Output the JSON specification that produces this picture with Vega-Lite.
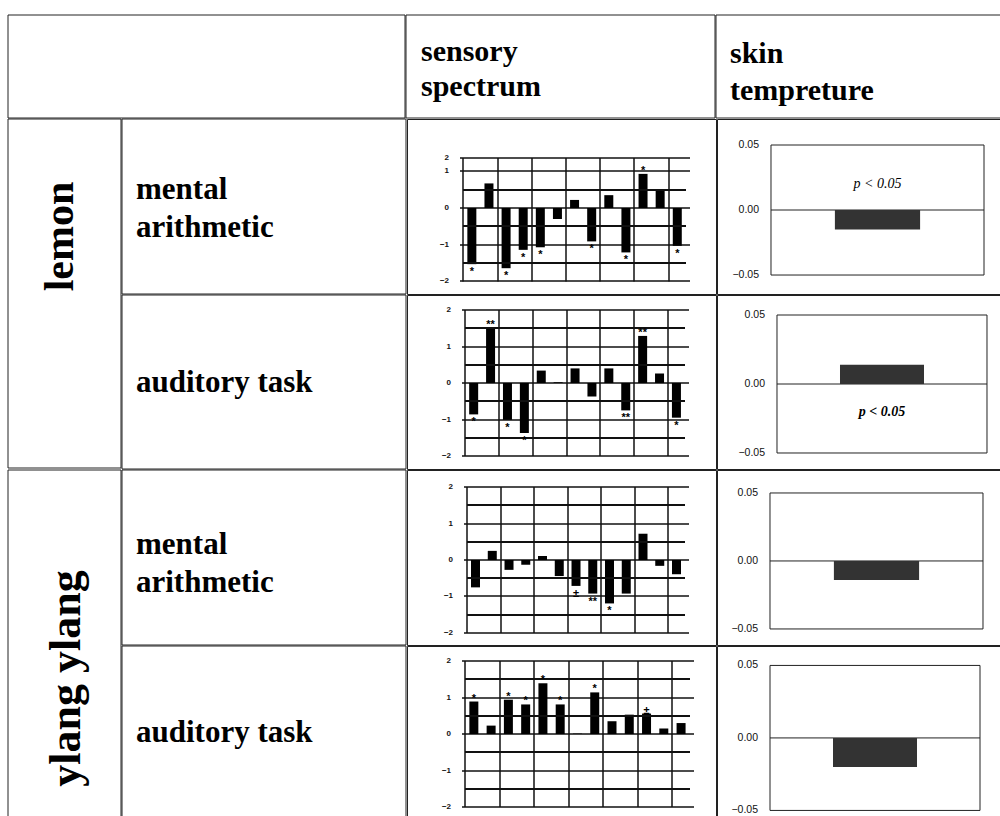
{
  "$schema": "https://vega.github.io/schema/vega-lite/v6.json",
  "background": "white",
  "padding": {"left": 7, "top": 14, "right": 0, "bottom": 0},
  "spacing": -3,
  "config": {
    "view": {"stroke": "#222", "strokeWidth": 1},
    "concat": {"spacing": -3},
    "font": "Liberation Serif",
    "axis": {"labelFont": "Liberation Sans", "labelColor": "#111", "title": null, "labelOverlap": false, "translate": 0},
    "rule": {"color": "#111", "strokeWidth": 1.5}
  },
  "vconcat": [
    {
      "spacing": -3,
      "hconcat": [
        {"width": 397, "height": 103, "data": {"values": [{"label": ""}]},
         "layer": [
           {"mark": {"type": "rect", "fill": "transparent", "stroke": "#222", "strokeWidth": 1}, "encoding": {}},
           {"mark": {"type": "text"}, "encoding": {"text": {"field": "label", "type": "nominal"}}}
         ]},
        {"width": 309, "height": 103, "data": {"values": [{"label": "sensory\nspectrum"}]},
         "layer": [
           {"mark": {"type": "rect", "fill": "transparent", "stroke": "#222", "strokeWidth": 1}, "encoding": {}},
           {"mark": {"type": "text", "align": "left", "baseline": "alphabetic", "dx": -139.5, "dy": -6, "lineBreak": "\n", "lineHeight": 35, "fontWeight": "bold", "fontSize": 30, "font": "Liberation Serif"},
            "encoding": {"text": {"field": "label", "type": "nominal"}}}
         ]},
        {"width": 286, "height": 103, "data": {"values": [{"label": "skin\ntempreture"}]},
         "layer": [
           {"mark": {"type": "rect", "fill": "transparent", "stroke": "#222", "strokeWidth": 1}, "encoding": {}},
           {"mark": {"type": "text", "align": "left", "baseline": "alphabetic", "dx": -129, "dy": -3.5, "lineBreak": "\n", "lineHeight": 37, "fontWeight": "bold", "fontSize": 30, "font": "Liberation Serif"},
            "encoding": {"text": {"field": "label", "type": "nominal"}}}
         ]}
      ]
    },
    {
      "spacing": -3,
      "hconcat": [
        {"width": 113, "height": 349, "data": {"values": [{"label": "lemon"}]},
         "layer": [
           {"mark": {"type": "rect", "fill": "transparent", "stroke": "#222", "strokeWidth": 1}, "encoding": {}},
           {"mark": {"type": "text", "angle": 270, "align": "center", "baseline": "middle", "dx": 57, "dy": -5, "fontWeight": "bold", "fontSize": 42, "font": "Liberation Serif"},
            "encoding": {"text": {"field": "label", "type": "nominal"}}}
         ]},
        {
          "spacing": -3,
          "vconcat": [
            {
              "spacing": -3,
              "hconcat": [
                {"width": 284, "height": 175, "data": {"values": [{"label": "mental\narithmetic"}]},
                 "layer": [
                   {"mark": {"type": "rect", "fill": "transparent", "stroke": "#222", "strokeWidth": 1}, "encoding": {}},
                   {"mark": {"type": "text", "align": "left", "baseline": "alphabetic", "dx": -128, "dy": -8, "lineBreak": "\n", "lineHeight": 38, "fontWeight": "bold", "fontSize": 31, "font": "Liberation Serif"},
                    "encoding": {"text": {"field": "label", "type": "nominal"}}}
                 ]},
                {"width": 309, "height": 175,
                 "data": {"values": [
                   {"i": 1, "v": -1.53, "sig": "*"}, {"i": 2, "v": 0.67, "sig": ""}, {"i": 3, "v": -1.64, "sig": "*"},
                   {"i": 4, "v": -1.14, "sig": "*"}, {"i": 5, "v": -1.07, "sig": "*"}, {"i": 6, "v": -0.30, "sig": ""},
                   {"i": 7, "v": 0.22, "sig": ""}, {"i": 8, "v": -0.91, "sig": "*"}, {"i": 9, "v": 0.35, "sig": ""},
                   {"i": 10, "v": -1.21, "sig": "*"}, {"i": 11, "v": 0.93, "sig": "*"}, {"i": 12, "v": 0.47, "sig": ""},
                   {"i": 13, "v": -1.03, "sig": "*"}]},
                 "layer": [
                   {"mark": {"type": "bar", "color": "black", "width": 9},
                    "encoding": {
                      "x": {"field": "i", "type": "quantitative", "title": null,
                            "scale": {"domain": [-2.4957, 14.9696], "nice": false, "zero": false},
                            "axis": {"orient": "bottom", "offset": -12.6, "values": [0.5,1.5,2.5,3.5,4.5,5.5,6.5,7.5,8.5,9.5,10.5,11.5,12.5,13.5], "labels": false, "domain": false, "grid": false, "tickSize": -123.3, "tickWidth": 1.5, "tickColor": "#111"}},
                      "y": {"field": "v", "type": "quantitative", "title": null,
                            "scale": {"domain": [-2.343, 2.425], "nice": false, "zero": false},
                            "axis": {"orient": "left", "offset": -53, "values": [-2,-1,0,1,1.36], "domain": false, "grid": false, "tickSize": -230, "tickWidth": 1.5, "tickColor": "#111", "labelPadding": 241, "labelOverlap": false, "labelExpr": "datum.value > 1.2 ? '2' : format(datum.value, 'd')", "labelFontSize": 8, "labelFontWeight": "bold"}},
                      "y2": {"datum": 0}}},
                   {"mark": {"type": "rule"}, "encoding": {"x": {"datum": 0.5, "type": "quantitative"}, "x2": {"datum": 13.5}, "y": {"datum": -1.5, "type": "quantitative"}}},
                   {"mark": {"type": "rule"}, "encoding": {"x": {"datum": 0.5, "type": "quantitative"}, "x2": {"datum": 13.5}, "y": {"datum": -0.5, "type": "quantitative"}}},
                   {"mark": {"type": "rule"}, "encoding": {"x": {"datum": 0.5, "type": "quantitative"}, "x2": {"datum": 13.5}, "y": {"datum": 0.5, "type": "quantitative"}}},
                   {"transform": [{"filter": "datum.v < 0"}],
                    "mark": {"type": "text", "baseline": "top", "dy": 2, "fontSize": 11, "fontWeight": "bold", "font": "Liberation Sans"},
                    "encoding": {"x": {"field": "i", "type": "quantitative"}, "y": {"field": "v", "type": "quantitative"}, "text": {"field": "sig", "type": "nominal"}}},
                   {"transform": [{"filter": "datum.v >= 0"}],
                    "mark": {"type": "text", "baseline": "bottom", "dy": 2, "fontSize": 11, "fontWeight": "bold", "font": "Liberation Sans"},
                    "encoding": {"x": {"field": "i", "type": "quantitative"}, "y": {"field": "v", "type": "quantitative"}, "text": {"field": "sig", "type": "nominal"}}}
                 ]},
                {"width": 286, "height": 175,
                 "data": {"values": [{"v": -0.015, "note": "p < 0.05"}]},
                 "resolve": {"scale": {"y": "independent"}, "axis": {"y": "independent"}},
                 "layer": [
                   {"mark": {"type": "rect", "fill": "white", "stroke": "#222", "strokeWidth": 1},
                    "encoding": {
                      "x": {"datum": 0, "type": "quantitative", "scale": {"domain": [-0.2535, 1.0892], "nice": false, "zero": false}, "axis": null},
                      "x2": {"datum": 1},
                      "y": {"datum": -0.05, "type": "quantitative", "scale": {"domain": [-0.0646, 0.07], "nice": false, "zero": false},
                            "axis": {"orient": "left", "offset": -54, "values": [-0.05, 0, 0.05], "domain": false, "grid": false, "ticks": false, "labelPadding": 12, "labelOverlap": false, "format": ".2f", "labelFontSize": 10.5, "title": null}},
                      "y2": {"datum": 0.05}}},
                   {"mark": {"type": "rule", "color": "#222", "strokeWidth": 1},
                    "encoding": {"x": {"datum": 0, "type": "quantitative"}, "x2": {"datum": 1},
                      "y": {"datum": 0, "type": "quantitative", "scale": {"domain": [-0.0646, 0.07], "nice": false, "zero": false},
                            "axis": {"orient": "left", "offset": -54, "values": [-0.04,-0.03,-0.02,-0.01,0.01,0.02,0.03,0.04], "domain": false, "grid": false, "labels": false, "tickSize": -3, "tickColor": "#333", "title": null}}}},
                   {"mark": {"type": "bar", "color": "#333"},
                    "encoding": {"x": {"datum": 0.3, "type": "quantitative"}, "x2": {"datum": 0.7},
                      "y": {"field": "v", "type": "quantitative", "scale": {"domain": [-0.0646, 0.07], "nice": false, "zero": false}, "axis": null}, "y2": {"datum": 0}}},
                   {"mark": {"type": "text", "font": "Liberation Serif", "fontStyle": "italic", "fontSize": 14},
                    "encoding": {"x": {"datum": 0.5, "type": "quantitative"},
                      "y": {"datum": 0.02, "type": "quantitative", "scale": {"domain": [-0.0646, 0.07], "nice": false, "zero": false}, "axis": null},
                      "text": {"field": "note", "type": "nominal"}}}
                 ]}
              ]
            },
            {
              "spacing": -3,
              "hconcat": [
                {"width": 284, "height": 174, "data": {"values": [{"label": "auditory task"}]},
                 "layer": [
                   {"mark": {"type": "rect", "fill": "transparent", "stroke": "#222", "strokeWidth": 1}, "encoding": {}},
                   {"mark": {"type": "text", "align": "left", "baseline": "alphabetic", "dx": -128, "dy": 10, "fontWeight": "bold", "fontSize": 31, "font": "Liberation Serif"},
                    "encoding": {"text": {"field": "label", "type": "nominal"}}}
                 ]},
                {"width": 309, "height": 174,
                 "data": {"values": [
                   {"i": 1, "v": -0.86, "sig": "*"}, {"i": 2, "v": 1.52, "sig": "**"}, {"i": 3, "v": -1.01, "sig": "*"},
                   {"i": 4, "v": -1.37, "sig": "*"}, {"i": 5, "v": 0.34, "sig": ""}, {"i": 6, "v": 0.02, "sig": ""},
                   {"i": 7, "v": 0.40, "sig": ""}, {"i": 8, "v": -0.37, "sig": ""}, {"i": 9, "v": 0.40, "sig": ""},
                   {"i": 10, "v": -0.75, "sig": "**"}, {"i": 11, "v": 1.29, "sig": "**"}, {"i": 12, "v": 0.26, "sig": ""},
                   {"i": 13, "v": -0.95, "sig": "*"}]},
                 "layer": [
                   {"mark": {"type": "bar", "color": "black", "width": 9},
                    "encoding": {
                      "x": {"field": "i", "type": "quantitative", "title": null,
                            "scale": {"domain": [-2.65, 15.046], "nice": false, "zero": false},
                            "axis": {"orient": "bottom", "offset": -13, "values": [0.5,1.5,2.5,3.5,4.5,5.5,6.5,7.5,8.5,9.5,10.5,11.5,12.5,13.5], "labels": false, "domain": false, "grid": false, "tickSize": -146, "tickWidth": 1.5, "tickColor": "#111"}},
                      "y": {"field": "v", "type": "quantitative", "title": null,
                            "scale": {"domain": [-2.356, 2.411], "nice": false, "zero": false},
                            "axis": {"orient": "left", "offset": -55, "values": [-2,-1,0,1,2], "domain": false, "grid": false, "tickSize": -227, "tickWidth": 1.5, "tickColor": "#111", "labelPadding": 238, "labelOverlap": false, "format": "d", "labelFontSize": 8, "labelFontWeight": "bold"}},
                      "y2": {"datum": 0}}},
                   {"mark": {"type": "rule"}, "encoding": {"x": {"datum": 0.5, "type": "quantitative"}, "x2": {"datum": 13.5}, "y": {"datum": -1.5, "type": "quantitative"}}},
                   {"mark": {"type": "rule"}, "encoding": {"x": {"datum": 0.5, "type": "quantitative"}, "x2": {"datum": 13.5}, "y": {"datum": -0.5, "type": "quantitative"}}},
                   {"mark": {"type": "rule"}, "encoding": {"x": {"datum": 0.5, "type": "quantitative"}, "x2": {"datum": 13.5}, "y": {"datum": 0.5, "type": "quantitative"}}},
                   {"mark": {"type": "rule"}, "encoding": {"x": {"datum": 0.5, "type": "quantitative"}, "x2": {"datum": 13.5}, "y": {"datum": 1.5, "type": "quantitative"}}},
                   {"transform": [{"filter": "datum.v < 0"}],
                    "mark": {"type": "text", "baseline": "top", "dy": 2, "fontSize": 11, "fontWeight": "bold", "font": "Liberation Sans"},
                    "encoding": {"x": {"field": "i", "type": "quantitative"}, "y": {"field": "v", "type": "quantitative"}, "text": {"field": "sig", "type": "nominal"}}},
                   {"transform": [{"filter": "datum.v >= 0"}],
                    "mark": {"type": "text", "baseline": "bottom", "dy": 2, "fontSize": 11, "fontWeight": "bold", "font": "Liberation Sans"},
                    "encoding": {"x": {"field": "i", "type": "quantitative"}, "y": {"field": "v", "type": "quantitative"}, "text": {"field": "sig", "type": "nominal"}}}
                 ]},
                {"width": 286, "height": 174,
                 "data": {"values": [{"v": 0.014, "note": "p < 0.05"}]},
                 "resolve": {"scale": {"y": "independent"}, "axis": {"y": "independent"}},
                 "layer": [
                   {"mark": {"type": "rect", "fill": "white", "stroke": "#222", "strokeWidth": 1},
                    "encoding": {
                      "x": {"datum": 0, "type": "quantitative", "scale": {"domain": [-0.2857, 1.0762], "nice": false, "zero": false}, "axis": null},
                      "x2": {"datum": 1},
                      "y": {"datum": -0.05, "type": "quantitative", "scale": {"domain": [-0.0616, 0.0645], "nice": false, "zero": false},
                            "axis": {"orient": "left", "offset": -60, "values": [-0.05, 0, 0.05], "domain": false, "grid": false, "ticks": false, "labelPadding": 12, "labelOverlap": false, "format": ".2f", "labelFontSize": 10.5, "title": null}},
                      "y2": {"datum": 0.05}}},
                   {"mark": {"type": "rule", "color": "#222", "strokeWidth": 1},
                    "encoding": {"x": {"datum": 0, "type": "quantitative"}, "x2": {"datum": 1},
                      "y": {"datum": 0, "type": "quantitative", "scale": {"domain": [-0.0616, 0.0645], "nice": false, "zero": false},
                            "axis": {"orient": "left", "offset": -60, "values": [-0.04,-0.03,-0.02,-0.01,0.01,0.02,0.03,0.04], "domain": false, "grid": false, "labels": false, "tickSize": -3, "tickColor": "#333", "title": null}}}},
                   {"mark": {"type": "bar", "color": "#333"},
                    "encoding": {"x": {"datum": 0.3, "type": "quantitative"}, "x2": {"datum": 0.7},
                      "y": {"field": "v", "type": "quantitative", "scale": {"domain": [-0.0616, 0.0645], "nice": false, "zero": false}, "axis": null}, "y2": {"datum": 0}}},
                   {"mark": {"type": "text", "font": "Liberation Serif", "fontStyle": "italic", "fontWeight": "bold", "fontSize": 14},
                    "encoding": {"x": {"datum": 0.5, "type": "quantitative"},
                      "y": {"datum": -0.02, "type": "quantitative", "scale": {"domain": [-0.0616, 0.0645], "nice": false, "zero": false}, "axis": null},
                      "text": {"field": "note", "type": "nominal"}}}
                 ]}
              ]
            }
          ]
        }
      ]
    },
    {
      "spacing": -3,
      "hconcat": [
        {"width": 113, "height": 349, "data": {"values": [{"label": "ylang ylang"}]},
         "layer": [
           {"mark": {"type": "rect", "fill": "transparent", "stroke": "#222", "strokeWidth": 1}, "encoding": {}},
           {"mark": {"type": "text", "angle": 270, "align": "center", "baseline": "middle", "dx": -34, "dy": 2, "fontWeight": "bold", "fontSize": 44, "font": "Liberation Serif"},
            "encoding": {"text": {"field": "label", "type": "nominal"}}}
         ]},
        {
          "spacing": -3,
          "vconcat": [
            {
              "spacing": -3,
              "hconcat": [
                {"width": 284, "height": 175, "data": {"values": [{"label": "mental\narithmetic"}]},
                 "layer": [
                   {"mark": {"type": "rect", "fill": "transparent", "stroke": "#222", "strokeWidth": 1}, "encoding": {}},
                   {"mark": {"type": "text", "align": "left", "baseline": "alphabetic", "dx": -128, "dy": -4, "lineBreak": "\n", "lineHeight": 38, "fontWeight": "bold", "fontSize": 31, "font": "Liberation Serif"},
                    "encoding": {"text": {"field": "label", "type": "nominal"}}}
                 ]},
                {"width": 309, "height": 175,
                 "data": {"values": [
                   {"i": 1, "v": -0.75, "sig": ""}, {"i": 2, "v": 0.25, "sig": ""}, {"i": 3, "v": -0.27, "sig": ""},
                   {"i": 4, "v": -0.13, "sig": ""}, {"i": 5, "v": 0.11, "sig": ""}, {"i": 6, "v": -0.44, "sig": ""},
                   {"i": 7, "v": -0.71, "sig": "±"}, {"i": 8, "v": -0.92, "sig": "**"}, {"i": 9, "v": -1.19, "sig": "*"},
                   {"i": 10, "v": -0.92, "sig": ""}, {"i": 11, "v": 0.72, "sig": ""}, {"i": 12, "v": -0.16, "sig": ""},
                   {"i": 13, "v": -0.39, "sig": ""}]},
                 "layer": [
                   {"mark": {"type": "bar", "color": "black", "width": 9},
                    "encoding": {
                      "x": {"field": "i", "type": "quantitative", "title": null,
                            "scale": {"domain": [-2.793, 15.06], "nice": false, "zero": false},
                            "axis": {"orient": "bottom", "offset": -12, "values": [0.5,1.5,2.5,3.5,4.5,5.5,6.5,7.5,8.5,9.5,10.5,11.5,12.5,13.5], "labels": false, "domain": false, "grid": false, "tickSize": -146, "tickWidth": 1.5, "tickColor": "#111"}},
                      "y": {"field": "v", "type": "quantitative", "title": null,
                            "scale": {"domain": [-2.329, 2.466], "nice": false, "zero": false},
                            "axis": {"orient": "left", "offset": -57, "values": [-2,-1,0,1,2], "domain": false, "grid": false, "tickSize": -225, "tickWidth": 1.5, "tickColor": "#111", "labelPadding": 236, "labelOverlap": false, "format": "d", "labelFontSize": 8, "labelFontWeight": "bold"}},
                      "y2": {"datum": 0}}},
                   {"mark": {"type": "rule"}, "encoding": {"x": {"datum": 0.5, "type": "quantitative"}, "x2": {"datum": 13.5}, "y": {"datum": -1.5, "type": "quantitative"}}},
                   {"mark": {"type": "rule"}, "encoding": {"x": {"datum": 0.5, "type": "quantitative"}, "x2": {"datum": 13.5}, "y": {"datum": -0.5, "type": "quantitative"}}},
                   {"mark": {"type": "rule"}, "encoding": {"x": {"datum": 0.5, "type": "quantitative"}, "x2": {"datum": 13.5}, "y": {"datum": 0.5, "type": "quantitative"}}},
                   {"mark": {"type": "rule"}, "encoding": {"x": {"datum": 0.5, "type": "quantitative"}, "x2": {"datum": 13.5}, "y": {"datum": 1.5, "type": "quantitative"}}},
                   {"transform": [{"filter": "datum.v < 0"}],
                    "mark": {"type": "text", "baseline": "top", "dy": 2, "fontSize": 11, "fontWeight": "bold", "font": "Liberation Sans"},
                    "encoding": {"x": {"field": "i", "type": "quantitative"}, "y": {"field": "v", "type": "quantitative"}, "text": {"field": "sig", "type": "nominal"}}},
                   {"transform": [{"filter": "datum.v >= 0"}],
                    "mark": {"type": "text", "baseline": "bottom", "dy": 2, "fontSize": 11, "fontWeight": "bold", "font": "Liberation Sans"},
                    "encoding": {"x": {"field": "i", "type": "quantitative"}, "y": {"field": "v", "type": "quantitative"}, "text": {"field": "sig", "type": "nominal"}}}
                 ]},
                {"width": 286, "height": 175,
                 "data": {"values": [{"v": -0.014, "note": ""}]},
                 "resolve": {"scale": {"y": "independent"}, "axis": {"y": "independent"}},
                 "layer": [
                   {"mark": {"type": "rect", "fill": "white", "stroke": "#222", "strokeWidth": 1},
                    "encoding": {
                      "x": {"datum": 0, "type": "quantitative", "scale": {"domain": [-0.2488, 1.0939], "nice": false, "zero": false}, "axis": null},
                      "x2": {"datum": 1},
                      "y": {"datum": -0.05, "type": "quantitative", "scale": {"domain": [-0.0618, 0.0669], "nice": false, "zero": false},
                            "axis": {"orient": "left", "offset": -53, "values": [-0.05, 0, 0.05], "domain": false, "grid": false, "ticks": false, "labelPadding": 12, "labelOverlap": false, "format": ".2f", "labelFontSize": 10.5, "title": null}},
                      "y2": {"datum": 0.05}}},
                   {"mark": {"type": "rule", "color": "#222", "strokeWidth": 1},
                    "encoding": {"x": {"datum": 0, "type": "quantitative"}, "x2": {"datum": 1},
                      "y": {"datum": 0, "type": "quantitative", "scale": {"domain": [-0.0618, 0.0669], "nice": false, "zero": false},
                            "axis": {"orient": "left", "offset": -53, "values": [-0.04,-0.03,-0.02,-0.01,0.01,0.02,0.03,0.04], "domain": false, "grid": false, "labels": false, "tickSize": -3, "tickColor": "#333", "title": null}}}},
                   {"mark": {"type": "bar", "color": "#333"},
                    "encoding": {"x": {"datum": 0.3, "type": "quantitative"}, "x2": {"datum": 0.7},
                      "y": {"field": "v", "type": "quantitative", "scale": {"domain": [-0.0618, 0.0669], "nice": false, "zero": false}, "axis": null}, "y2": {"datum": 0}}}
                 ]}
              ]
            },
            {
              "spacing": -3,
              "hconcat": [
                {"width": 284, "height": 174, "data": {"values": [{"label": "auditory task"}]},
                 "layer": [
                   {"mark": {"type": "rect", "fill": "transparent", "stroke": "#222", "strokeWidth": 1}, "encoding": {}},
                   {"mark": {"type": "text", "align": "left", "baseline": "alphabetic", "dx": -128, "dy": 9, "fontWeight": "bold", "fontSize": 31, "font": "Liberation Serif"},
                    "encoding": {"text": {"field": "label", "type": "nominal"}}}
                 ]},
                {"width": 309, "height": 174,
                 "data": {"values": [
                   {"i": 1, "v": 0.89, "sig": "*"}, {"i": 2, "v": 0.23, "sig": ""}, {"i": 3, "v": 0.94, "sig": "*"},
                   {"i": 4, "v": 0.81, "sig": "*"}, {"i": 5, "v": 1.39, "sig": "*"}, {"i": 6, "v": 0.81, "sig": "*"},
                   {"i": 7, "v": 0.01, "sig": ""}, {"i": 8, "v": 1.14, "sig": "*"}, {"i": 9, "v": 0.35, "sig": ""},
                   {"i": 10, "v": 0.53, "sig": ""}, {"i": 11, "v": 0.56, "sig": "±"}, {"i": 12, "v": 0.15, "sig": ""},
                   {"i": 13, "v": 0.30, "sig": ""}]},
                 "layer": [
                   {"mark": {"type": "bar", "color": "black", "width": 9},
                    "encoding": {
                      "x": {"field": "i", "type": "quantitative", "title": null,
                            "scale": {"domain": [-2.582, 14.733], "nice": false, "zero": false},
                            "axis": {"orient": "bottom", "offset": -13, "values": [0.5,1.5,2.5,3.5,4.5,5.5,6.5,7.5,8.5,9.5,10.5,11.5,12.5,13.5], "labels": false, "domain": false, "grid": false, "tickSize": -146, "tickWidth": 1.5, "tickColor": "#111"}},
                      "y": {"field": "v", "type": "quantitative", "title": null,
                            "scale": {"domain": [-2.356, 2.411], "nice": false, "zero": false},
                            "axis": {"orient": "left", "offset": -55, "values": [-2,-1,0,1,2], "domain": false, "grid": false, "tickSize": -232, "tickWidth": 1.5, "tickColor": "#111", "labelPadding": 243, "labelOverlap": false, "format": "d", "labelFontSize": 8, "labelFontWeight": "bold"}},
                      "y2": {"datum": 0}}},
                   {"mark": {"type": "rule"}, "encoding": {"x": {"datum": 0.5, "type": "quantitative"}, "x2": {"datum": 13.5}, "y": {"datum": -1.5, "type": "quantitative"}}},
                   {"mark": {"type": "rule"}, "encoding": {"x": {"datum": 0.5, "type": "quantitative"}, "x2": {"datum": 13.5}, "y": {"datum": -0.5, "type": "quantitative"}}},
                   {"mark": {"type": "rule"}, "encoding": {"x": {"datum": 0.5, "type": "quantitative"}, "x2": {"datum": 13.5}, "y": {"datum": 0.5, "type": "quantitative"}}},
                   {"mark": {"type": "rule"}, "encoding": {"x": {"datum": 0.5, "type": "quantitative"}, "x2": {"datum": 13.5}, "y": {"datum": 1.5, "type": "quantitative"}}},
                   {"transform": [{"filter": "datum.v < 0"}],
                    "mark": {"type": "text", "baseline": "top", "dy": 2, "fontSize": 11, "fontWeight": "bold", "font": "Liberation Sans"},
                    "encoding": {"x": {"field": "i", "type": "quantitative"}, "y": {"field": "v", "type": "quantitative"}, "text": {"field": "sig", "type": "nominal"}}},
                   {"transform": [{"filter": "datum.v >= 0"}],
                    "mark": {"type": "text", "baseline": "bottom", "dy": 2, "fontSize": 11, "fontWeight": "bold", "font": "Liberation Sans"},
                    "encoding": {"x": {"field": "i", "type": "quantitative"}, "y": {"field": "v", "type": "quantitative"}, "text": {"field": "sig", "type": "nominal"}}}
                 ]},
                {"width": 286, "height": 174,
                 "data": {"values": [{"v": -0.02, "note": ""}]},
                 "resolve": {"scale": {"y": "independent"}, "axis": {"y": "independent"}},
                 "layer": [
                   {"mark": {"type": "rect", "fill": "white", "stroke": "#222", "strokeWidth": 1},
                    "encoding": {
                      "x": {"datum": 0, "type": "quantitative", "scale": {"domain": [-0.2524, 1.1095], "nice": false, "zero": false}, "axis": null},
                      "x2": {"datum": 1},
                      "y": {"datum": -0.05, "type": "quantitative", "scale": {"domain": [-0.0566, 0.0634], "nice": false, "zero": false},
                            "axis": {"orient": "left", "offset": -53, "values": [-0.05, 0, 0.05], "domain": false, "grid": false, "ticks": false, "labelPadding": 12, "labelOverlap": false, "format": ".2f", "labelFontSize": 10.5, "title": null}},
                      "y2": {"datum": 0.05}}},
                   {"mark": {"type": "rule", "color": "#222", "strokeWidth": 1},
                    "encoding": {"x": {"datum": 0, "type": "quantitative"}, "x2": {"datum": 1},
                      "y": {"datum": 0, "type": "quantitative", "scale": {"domain": [-0.0566, 0.0634], "nice": false, "zero": false},
                            "axis": {"orient": "left", "offset": -53, "values": [-0.04,-0.03,-0.02,-0.01,0.01,0.02,0.03,0.04], "domain": false, "grid": false, "labels": false, "tickSize": -3, "tickColor": "#333", "title": null}}}},
                   {"mark": {"type": "bar", "color": "#333"},
                    "encoding": {"x": {"datum": 0.3, "type": "quantitative"}, "x2": {"datum": 0.7},
                      "y": {"field": "v", "type": "quantitative", "scale": {"domain": [-0.0566, 0.0634], "nice": false, "zero": false}, "axis": null}, "y2": {"datum": 0}}}
                 ]}
              ]
            }
          ]
        }
      ]
    }
  ]
}
